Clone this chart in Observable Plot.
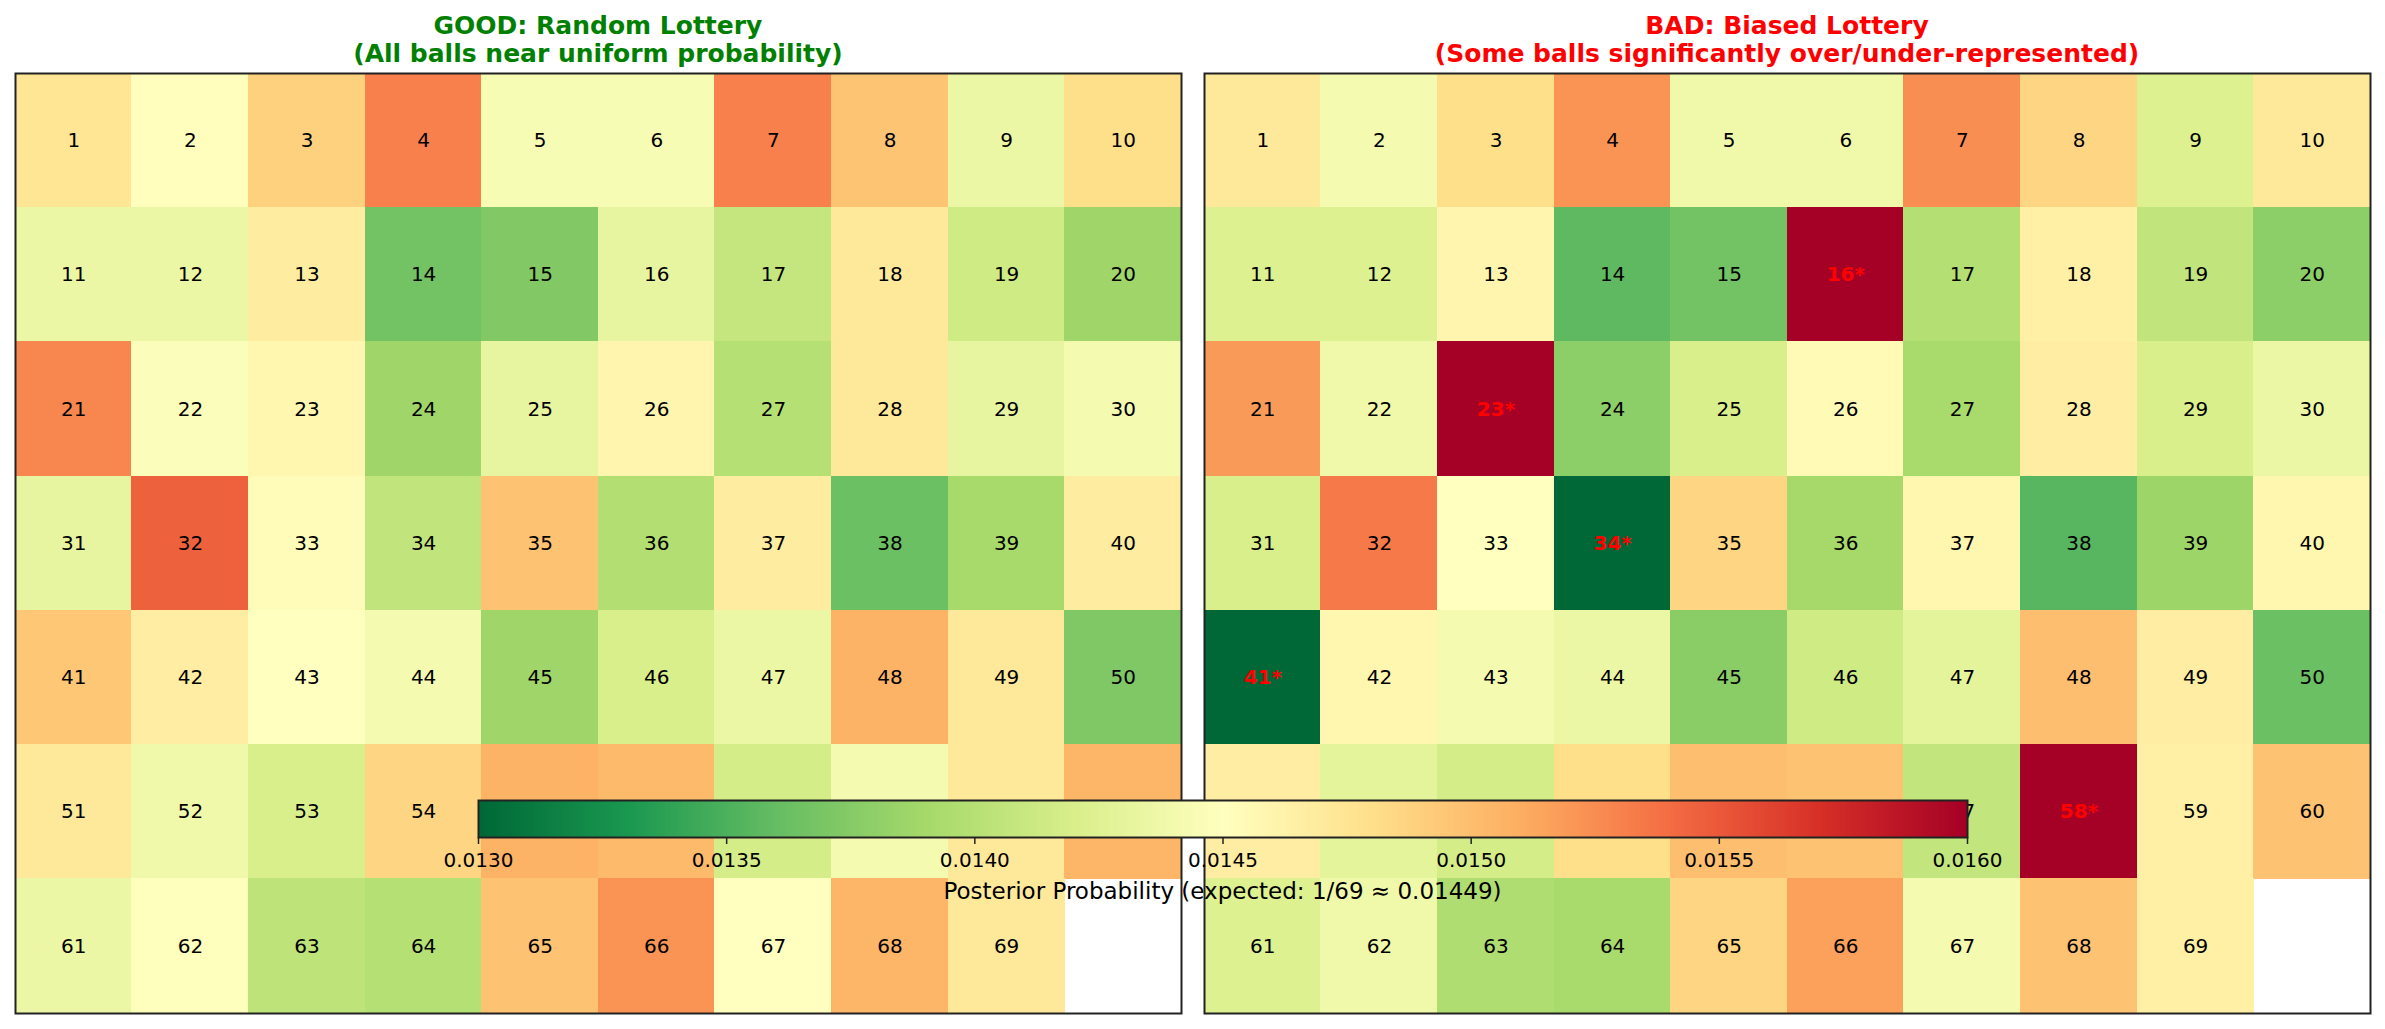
<!DOCTYPE html>
<html>
<head>
<meta charset="utf-8">
<script src="https://cdn.jsdelivr.net/npm/d3@7"></script>
<script src="https://cdn.jsdelivr.net/npm/@observablehq/plot@0.6"></script>
<style>
  html, body { margin: 0; padding: 0; background: white; }
  #root { position: relative; width: 2385px; height: 1029px; font-family: "DejaVu Sans", sans-serif; overflow: hidden; }
  .title { position: absolute; text-align: center; font-weight: bold; font-size: 25px; line-height: 28px; white-space: nowrap; }
  .abs { position: absolute; }
  .caption { position: absolute; font-size: 23px; white-space: nowrap; transform: translate(-50%, -50%); color: #000; }
</style>
</head>
<body>
<div id="root"></div>
<script>
// ---- Data ----
const nCols = 10;
const nRows = 7;
const balls = d3.range(1, 70); // ball numbers 1..69

const goodProbs = [
  0.01474, 0.01451, 0.01489, 0.01531, 0.01444, 0.01444, 0.01531, 0.01497, 0.01435, 0.01480,
  0.01435, 0.01435, 0.01468, 0.01366, 0.01373, 0.01432, 0.01408, 0.01471, 0.01414, 0.01387,
  0.01528, 0.01447, 0.01459, 0.01387, 0.01432, 0.01460, 0.01399, 0.01472, 0.01432, 0.01441,
  0.01432, 0.01546, 0.01453, 0.01406, 0.01498, 0.01397, 0.01468, 0.01363, 0.01391, 0.01468,
  0.01495, 0.01467, 0.01450, 0.01441, 0.01387, 0.01420, 0.01435, 0.01507, 0.01471, 0.01372,
  0.01471, 0.01438, 0.01420, 0.01486, 0.01507, 0.01503, 0.01417, 0.01441, 0.01471, 0.01506,
  0.01435, 0.01449, 0.01404, 0.01399, 0.01498, 0.01522, 0.01450, 0.01506, 0.01471
];

const badProbs = [
  0.01471, 0.01441, 0.01480, 0.01522, 0.01438, 0.01438, 0.01525, 0.01486, 0.01423, 0.01471,
  0.01423, 0.01423, 0.01460, 0.01357, 0.01366, 0.01720, 0.01398, 0.01465, 0.01406, 0.01378,
  0.01519, 0.01438, 0.01700, 0.01378, 0.01420, 0.01455, 0.01392, 0.01467, 0.01420, 0.01435,
  0.01420, 0.01534, 0.01450, 0.01250, 0.01486, 0.01390, 0.01459, 0.01354, 0.01386, 0.01459,
  0.01230, 0.01459, 0.01441, 0.01435, 0.01377, 0.01414, 0.01429, 0.01500, 0.01467, 0.01363,
  0.01467, 0.01429, 0.01417, 0.01480, 0.01500, 0.01498, 0.01407, 0.01680, 0.01465, 0.01498,
  0.01423, 0.01438, 0.01396, 0.01392, 0.01486, 0.01516, 0.01441, 0.01498, 0.01465
];

const biasedBalls = [16, 23, 34, 41, 58];

const colorDomain = [0.0130, 0.0160];
const colorTicks = [0.0130, 0.0135, 0.0140, 0.0145, 0.0150, 0.0155, 0.0160];

const goodTitle = ["GOOD: Random Lottery", "(All balls near uniform probability)"];
const badTitle = ["BAD: Biased Lottery", "(Some balls significantly over/under-represented)"];
const captionText = "Posterior Probability (expected: 1/69 \u2248 0.01449)";

// matplotlib RdYlGn_r stops
const rdylgnR = ["#006837", "#1a9850", "#66bd63", "#a6d96a", "#d9ef8b", "#ffffbf",
                 "#fee08b", "#fdae61", "#f46d43", "#d73027", "#a50026"];

const colorScale = {
  type: "linear",
  domain: colorDomain,
  interpolate: d3.piecewise(d3.interpolateRgb, rdylgnR),
  clamp: true
};

// ---- Layout ----
const root = document.getElementById("root");
const panelW = 1166, panelH = 940, panelTop = 73;
const panels = [
  { left: 15, probs: goodProbs, title: goodTitle, color: "#008000", markBias: false },
  { left: 1204, probs: badProbs, title: badTitle, color: "#ff0000", markBias: true }
];

for (const p of panels) {
  const data = balls.map((b, i) => ({
    ball: b,
    col: (b - 1) % nCols,
    row: Math.floor((b - 1) / nCols),
    prob: p.probs[i],
    biased: p.markBias && biasedBalls.includes(b)
  }));
  const normal = data.filter(d => !d.biased);
  const flagged = data.filter(d => d.biased);

  const chart = Plot.plot({
    width: panelW,
    height: panelH,
    margin: 0,
    style: { background: "transparent", overflow: "visible", maxWidth: "none", fontFamily: "DejaVu Sans" },
    x: { type: "band", domain: d3.range(nCols), padding: 0, round: false, axis: null },
    y: { type: "band", domain: d3.range(nRows), padding: 0, round: false, axis: null },
    color: colorScale,
    marks: [
      Plot.cell(data, { x: "col", y: "row", fill: "prob", inset: -0.25, shapeRendering: "crispEdges" }),
      Plot.text(normal, { x: "col", y: "row", text: d => String(d.ball), fill: "#000", fontSize: 20 }),
      Plot.text(flagged, { x: "col", y: "row", text: d => d.ball + "*", fill: "#ff0000", fontSize: 20, fontWeight: "bold" }),
      Plot.frame({ stroke: "#222", strokeWidth: 2 })
    ]
  });
  chart.classList.add("abs");
  chart.style.left = p.left + "px";
  chart.style.top = panelTop + "px";
  root.appendChild(chart);

  const t = document.createElement("div");
  t.className = "title";
  t.style.left = p.left + "px";
  t.style.width = panelW + "px";
  t.style.top = "12px";
  t.style.color = p.color;
  t.innerHTML = p.title.join("<br>");
  root.appendChild(t);
}

// ---- Colorbar ----
const cbLeft = 478, cbWidth = 1489, cbTop = 800, cbHeight = 37;
const cbMarginL = 60, cbMarginR = 60, cbMarginT = 2, cbMarginB = 45;
const colorbar = Plot.plot({
  width: cbWidth + cbMarginL + cbMarginR,
  height: cbHeight + cbMarginT + cbMarginB,
  marginLeft: cbMarginL, marginRight: cbMarginR, marginTop: cbMarginT, marginBottom: cbMarginB,
  style: { background: "transparent", overflow: "visible", maxWidth: "none", fontFamily: "DejaVu Sans", color: "#000" },
  x: { domain: colorDomain },
  y: { domain: [0, 1], axis: null },
  color: colorScale,
  marks: [
    Plot.raster({ x1: colorDomain[0], x2: colorDomain[1], y1: 0, y2: 1, width: 600, height: 1,
                  fill: (x, y) => x, imageRendering: "auto" }),
    Plot.frame({ stroke: "#222", strokeWidth: 2 }),
    Plot.axisX({ ticks: colorTicks, tickFormat: d3.format(".4f"), tickSize: 7, tickPadding: 8,
                 fontSize: 20, label: null, stroke: "#222", strokeWidth: 1.5 })
  ]
});
colorbar.classList.add("abs");
colorbar.style.left = (cbLeft - cbMarginL) + "px";
colorbar.style.top = (cbTop - cbMarginT) + "px";
root.appendChild(colorbar);

const cap = document.createElement("div");
cap.className = "caption";
cap.style.left = (cbLeft + cbWidth / 2) + "px";
cap.style.top = "891px";
cap.textContent = captionText;
root.appendChild(cap);
</script>
</body>
</html>
